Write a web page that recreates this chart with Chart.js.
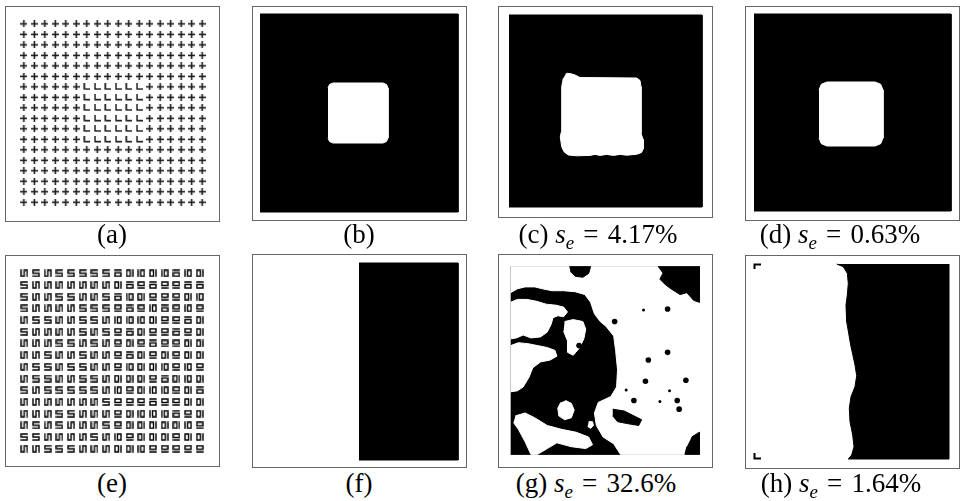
<!DOCTYPE html>
<html><head><meta charset="utf-8">
<script src="https://cdn.jsdelivr.net/npm/chart.js@4.4.1/dist/chart.umd.min.js"></script>
<style>
html,body{margin:0;padding:0;background:#fff;}
body{width:963px;height:501px;position:relative;overflow:hidden;}
.frame{position:absolute;box-sizing:border-box;border:1px solid #666;}
canvas{position:absolute;}
.cap{position:absolute;font-family:"Liberation Serif","Tinos","Times New Roman",serif;font-size:27px;line-height:27px;white-space:nowrap;transform:translateX(-50%);color:#000;}
.cap i{font-style:italic;}
.cap .sub{font-size:0.7em;position:relative;top:0.32em;font-style:italic;}
.cap .eq{margin:0 0.34em;}
</style></head><body>
<div id="root"></div>
<div class="cap" style="left:112px;top:221px">(a)</div>
<div class="cap" style="left:359px;top:221px">(b)</div>
<div class="cap" style="left:598px;top:221px">(c) <i>s</i><span class="sub">e</span><span class="eq">=</span>4.17%</div>
<div class="cap" style="left:840px;top:221px">(d) <i>s</i><span class="sub">e</span><span class="eq">=</span>0.63%</div>
<div class="cap" style="left:112px;top:470px">(e)</div>
<div class="cap" style="left:359px;top:470px">(f)</div>
<div class="cap" style="left:596px;top:470px">(g) <i>s</i><span class="sub">e</span><span class="eq">=</span>32.6%</div>
<div class="cap" style="left:841px;top:470px">(h) <i>s</i><span class="sub">e</span><span class="eq">=</span>1.64%</div>
<script>
// ---------------- DATA ----------------
// (a) texture of "+" and "L" elements (18 x 18)
const textureA = [
  "++++++++++++++++++",
  "++++++++++++++++++",
  "++++++++++++++++++",
  "++++++++++++++++++",
  "++++++++++++++++++",
  "++++++++++++++++++",
  "++++++LLLLLL++++++",
  "++++++LLLLLL++++++",
  "++++++LLLLLL++++++",
  "++++++LLLLLL++++++",
  "++++++LLLLLL++++++",
  "++++++LLLLLL++++++",
  "++++++++++++++++++",
  "++++++++++++++++++",
  "++++++++++++++++++",
  "++++++++++++++++++",
  "++++++++++++++++++",
  "++++++++++++++++++"
];
// (e) texture: S = "5"-shape, W = rotated S, a/u/l/r = bar + box in four orientations
const textureE = [
  "WSWSSSSSarlrlalr",
  "SWWWWWWWrauauuaa",
  "SWWSSWWSalruuurl",
  "SWWWWSSSuaulaulu",
  "WSSWWSSWlllruuar",
  "SWWWWSWSuaruuaur",
  "WWWSSWSWuruauurr",
  "WWSWWSWWuarururr",
  "WSSWSSWWulrrlulu",
  "WSSWWSSWrrruarlr",
  "SWSSSSSWlurllura",
  "WWWWWWWSuuuauurr",
  "WWWSSWWWurlllaur",
  "WSWSWWWSurrrrrlu",
  "SSWWWWSWlurrrurr",
  "WWSSSWWWrrluuuuu"
];
// (b) ground truth: image area and white square (figure pixel coordinates)
const imageB = [[260,14],[458,14],[458,212],[260,212]];
const squareB = [[328,88],[329.5,84.5],[333,83],[383,83],[386.5,84.5],[388,88],[388,138],[386.5,141.5],[383,143],[333,143],[329.5,141.5],[328,138]];
// (c) result, s_e = 4.17%
const imageC = [[509,15],[702,15],[702,207],[509,207]];
const blobC = [[565.7,74],[567.3,73.3],[571,73.8],[575,75],[580,77.5],[636.7,78],[640,80.5],[641,86.7],[641,133.3],[643,139.3],[643.5,148.3],[641.5,152.5],[636.7,154.3],[626.7,155.2],[620,154.4],[613.3,155.4],[606.7,154.4],[600,155.4],[595,154.4],[590,155.4],[576.7,155.8],[568.3,155],[564,151.7],[561.7,146.7],[560.3,137],[561.3,132],[561.7,86.7],[563.3,78.3]];
// (d) result, s_e = 0.63%
const imageD = [[754,14],[951,14],[951,211],[754,211]];
const squareD = [[819,90],[821.3,84.3],[827,82],[875,82],[880.7,84.3],[883,90],[883,138],[880.7,143.7],[875,146],[827,146],[821.3,143.7],[819,138]];
// (f) ground truth: right half black
const regionF = [[359,263],[458,263],[458,460],[359,460]];
// (g) result, s_e = 32.6%
const imageG = [[507,263],[703,263],[703,458],[507,458]];
const whiteG = [
  [[507,263],[703,263],[703,458],[621,458],[614,447],[603,440],[596,428],[594,415],[598,404],[611,398],[617,388],[618,370],[616,350],[614,335],[606,325],[600,320],[594,312],[590,300],[584,292],[574,289],[562,288],[550,288],[540,286],[532,284],[522,284],[514,286],[507,290]],
  [[507,300],[514,297],[524,297],[534,299],[544,302],[554,303],[562,305],[566,310],[562,315],[556,314],[551,316],[549,323],[545,331],[538,336],[528,337],[520,334],[513,337],[507,338]],
  [[563,320],[572,318],[582,320],[585,328],[583,338],[578,348],[572,355],[566,352],[566,340],[562,330]],
  [[507,345],[515,342],[525,343],[535,345],[545,347],[553,350],[555,356],[548,360],[538,362],[530,368],[526,378],[520,388],[514,392],[507,393]],
  [[564,402],[570,405],[573,412],[570,420],[563,422],[557,418],[556,410],[559,404]],
  [[512,418],[522,415],[532,420],[545,428],[560,432],[575,435],[588,440],[592,448],[585,452],[570,450],[555,446],[545,452],[535,458],[528,458],[522,445],[515,432],[510,425]],
  [[588,424],[592,424],[593,428],[590,431],[587,429]]
];
const blackG = [
  [[568,263],[590,263],[588,270],[582,274],[574,273],[569,268]],
  [[660,263],[703,263],[703,300],[697,298],[690,290],[683,292],[675,287],[668,282],[662,276],[665,270]],
  [[695,440],[703,435],[703,458],[688,458],[690,450]],
  [[613,411],[625,413],[635,418],[643,422],[640,428],[628,426],[618,424],[613,418]]
];
const dotsGsmall = [[645,308],[627,391],[672,392],[662,403]];
const dotsGlarge = [[670,307],[615,320],[578,345],[650,360],[670,352],[647,382],[689,381],[635,402],[680,402],[682,411]];
// (h) result, s_e = 1.64%
const regionH = [[836.7,264],[843.3,266.7],[847.3,273.3],[848.3,283.3],[847.3,295],[846,305],[846.7,321.7],[850.7,345],[855,365],[856.7,375.7],[855,386.7],[851,396.7],[849.3,408.3],[850,421.7],[852.7,435],[854,446.7],[851.7,455],[848.3,459],[949,459],[949,264]];
const cornerH1 = [[761,264.5],[754.5,264.5],[754.5,269]];
const cornerH2 = [[754.5,453],[754.5,458.5],[761,458.5]];

// ---------------- LAYOUT / STYLE ----------------
Chart.defaults.animation = false;
Chart.defaults.events = [];
Chart.defaults.plugins.legend.display = false;
Chart.defaults.plugins.tooltip.enabled = false;

const BLACK = '#000', WHITE = '#fff';
const root = document.getElementById('root');

function addPanel(rect, xr, yr, datasets) {
  const f = document.createElement('div');
  f.className = 'frame';
  Object.assign(f.style, {left: rect[0] + 'px', top: rect[1] + 'px', width: rect[2] + 'px', height: rect[3] + 'px'});
  root.appendChild(f);
  const c = document.createElement('canvas');
  c.width = rect[2]; c.height = rect[3];
  Object.assign(c.style, {left: rect[0] + 'px', top: rect[1] + 'px', width: rect[2] + 'px', height: rect[3] + 'px'});
  root.appendChild(c);
  new Chart(c, {
    type: 'scatter',
    data: {datasets: datasets.slice().reverse()},
    options: {
      responsive: false, devicePixelRatio: 1, animation: false, events: [],
      layout: {padding: 0},
      scales: {
        x: {type: 'linear', display: false, min: xr[0], max: xr[1]},
        y: {type: 'linear', display: false, min: yr[0], max: yr[1], reverse: true}
      },
      plugins: {legend: {display: false}, tooltip: {enabled: false}}
    }
  });
}
function pixelView(rect) {
  return [[rect[0], rect[0] + rect[2]], [rect[1], rect[1] + rect[3]]];
}
function poly(points, color) {
  return {data: points.map(p => ({x: p[0], y: p[1]})), showLine: true, fill: 'shape',
    backgroundColor: color, borderColor: color, borderWidth: 1, pointRadius: 0, tension: 0};
}
function polyline(points, color, w) {
  return {data: points.map(p => ({x: p[0], y: p[1]})), showLine: true, fill: false,
    borderColor: color, borderWidth: w, pointRadius: 0, tension: 0};
}
function dots(points, r) {
  return {data: points.map(p => ({x: p[0], y: p[1]})), showLine: false, pointStyle: 'circle',
    pointRadius: r, backgroundColor: BLACK, borderWidth: 0};
}
// glyph images (texture elements)
function strokeGlyph(size, lw, color, draw) {
  const c = document.createElement('canvas'); c.width = size; c.height = size;
  const g = c.getContext('2d'); g.strokeStyle = color; g.lineWidth = lw; g.lineCap = 'square'; g.lineJoin = 'miter';
  g.beginPath(); draw(g); g.stroke(); return c;
}
const glyphA = {
  '+': strokeGlyph(7, 1.5, '#111', g => { g.moveTo(3.5, 0.6); g.lineTo(3.5, 6.4); g.moveTo(0.6, 3.5); g.lineTo(6.4, 3.5); }),
  'L': strokeGlyph(7, 1.5, '#111', g => { g.moveTo(1.2, 0.8); g.lineTo(1.2, 5.8); g.lineTo(6.4, 5.8); })
};
const EC = '#000', EW = 1.4;
const glyphE = {
  S: strokeGlyph(8, EW, EC, g => { g.moveTo(7, 1); g.lineTo(1, 1); g.lineTo(1, 4); g.lineTo(7, 4); g.lineTo(7, 7); g.lineTo(1, 7); }),
  W: strokeGlyph(8, EW, EC, g => { g.moveTo(1, 7); g.lineTo(1, 1); g.moveTo(1, 7); g.lineTo(4, 7); g.lineTo(4, 1); g.lineTo(7, 1); g.lineTo(7, 7); }),
  a: strokeGlyph(8, EW, EC, g => { g.moveTo(1, 1); g.lineTo(7, 1); g.rect(1, 3.5, 6, 3.5); }),
  u: strokeGlyph(8, EW, EC, g => { g.rect(1, 1, 6, 3.5); g.moveTo(1, 7); g.lineTo(7, 7); }),
  l: strokeGlyph(8, EW, EC, g => { g.moveTo(1, 1); g.lineTo(1, 7); g.rect(3.5, 1, 3.5, 6); }),
  r: strokeGlyph(8, EW, EC, g => { g.rect(1, 1, 3.5, 6); g.moveTo(7, 1); g.lineTo(7, 7); })
};

function textureDatasets(texture, glyphs) {
  const out = [];
  Object.keys(glyphs).forEach(k => {
    const data = [];
    texture.forEach((row, j) => { for (let i = 0; i < row.length; i++) if (row[i] === k) data.push({x: i, y: j}); });
    out.push({data, showLine: false, pointStyle: glyphs[k], pointRadius: 4});
  });
  return out;
}
function gridView(rect, offX, offY, step) {
  return [[-offX / step, (rect[2] - offX) / step], [-offY / step, (rect[3] - offY) / step]];
}

// panel rectangles [left, top, width, height]
const rA = [5, 6, 215, 216], rB = [252, 6, 215, 215], rC = [498, 6, 215, 212], rD = [745, 6, 215, 215];
const rE = [5, 255, 215, 212], rF = [252, 254, 215, 214], rG = [498, 254, 215, 214], rH = [745, 255, 215, 214];

// (a)
{ const v = gridView(rA, 14.5, 13.5, 11); addPanel(rA, v[0], v[1], textureDatasets(textureA, glyphA)); }
// (b)
{ const v = pixelView(rB); addPanel(rB, v[0], v[1], [poly(imageB, BLACK), poly(squareB, WHITE)]); }
// (c)
{ const v = pixelView(rC); addPanel(rC, v[0], v[1], [poly(imageC, BLACK), poly(blobC, WHITE)]); }
// (d)
{ const v = pixelView(rD); addPanel(rD, v[0], v[1], [poly(imageD, BLACK), poly(squareD, WHITE)]); }
// (e)
{ const v = gridView(rE, 15, 14, 12.27); addPanel(rE, v[0], v[1], textureDatasets(textureE, glyphE)); }
// (f)
{ const v = pixelView(rF); addPanel(rF, v[0], v[1], [poly(regionF, BLACK)]); }
// (g)
{ const v = pixelView(rG);
  const ds = [poly(imageG, BLACK)];
  whiteG.forEach(p => ds.push(poly(p, WHITE)));
  blackG.forEach(p => ds.push(poly(p, BLACK)));
  ds.push(dots(dotsGsmall, 1.5), dots(dotsGlarge, 2.8));
  addPanel(rG, v[0], v[1], ds); }
// (h)
{ const v = pixelView(rH); addPanel(rH, v[0], v[1], [poly(regionH, BLACK), polyline(cornerH1, BLACK, 2), polyline(cornerH2, BLACK, 2)]); }
</script>
</body></html>
